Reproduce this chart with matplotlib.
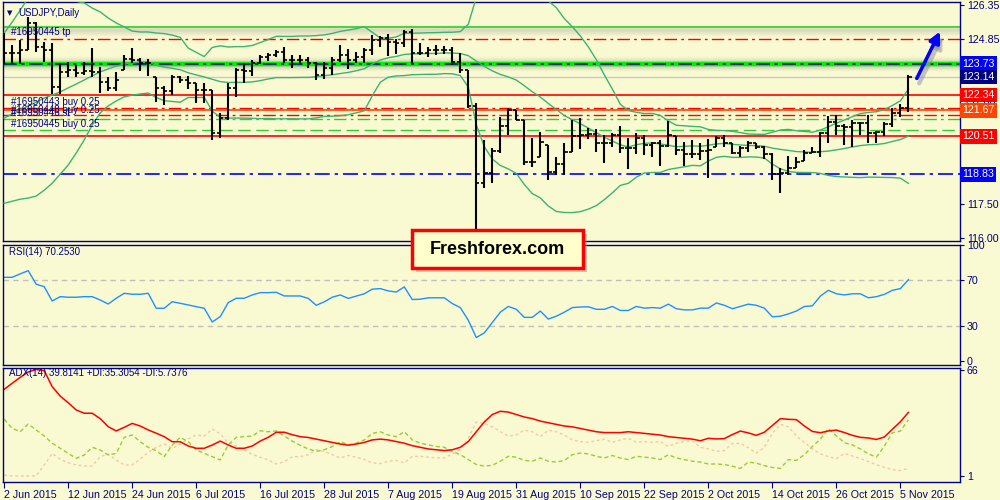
import numpy as np
import pandas as pd
import matplotlib
matplotlib.use('Agg')
import matplotlib.pyplot as plt
from matplotlib.patches import Rectangle

# ---- daily USDJPY bars (2 Jun 2015 .. 6 Nov 2015) ----
highs = [125.08, 124.56, 124.79, 125.82, 125.60, 124.71, 124.64, 123.75, 123.82, 123.68,
         123.82, 124.42, 123.60, 123.16, 123.38, 124.12, 124.42, 123.97, 123.93, 123.16,
         122.74, 123.23, 123.19, 123.19, 122.89, 122.86, 122.57, 121.53, 122.86, 123.53,
         123.75, 123.90, 124.12, 124.19, 124.34, 124.49, 124.12, 124.12, 124.05, 123.82,
         123.82, 124.02, 124.56, 124.37, 124.27, 124.42, 125.01, 124.96, 125.05, 124.81,
         125.23, 125.26, 124.64, 124.49, 124.56, 124.52, 124.46, 124.19, 123.45, 121.97,
         120.35, 119.98, 121.38, 121.75, 121.68, 121.24, 120.42, 120.72, 120.13, 119.61,
         120.20, 121.24, 121.31, 120.87, 120.82, 120.57, 120.67, 120.97, 120.42, 120.64,
         120.57, 120.27, 120.35, 121.21, 120.53, 120.27, 120.35, 120.23, 120.38, 120.53,
         120.57, 120.20, 120.08, 120.32, 120.23, 120.08, 119.76, 119.09, 119.64, 119.58,
         119.90, 120.05, 120.72, 121.41, 121.46, 121.06, 121.24, 121.16, 121.46, 120.76,
         121.16, 121.75, 121.94, 123.23]
lows = [123.72, 123.72, 123.72, 124.34, 124.27, 123.82, 122.39, 122.39, 123.16, 123.16,
        123.23, 123.16, 122.45, 122.54, 122.54, 123.45, 123.75, 123.42, 123.19, 122.05,
        121.90, 122.35, 122.89, 122.60, 121.97, 121.97, 120.35, 120.42, 121.24, 122.27,
        122.89, 123.19, 123.72, 123.87, 124.02, 123.75, 123.53, 123.72, 123.53, 123.01,
        123.04, 123.23, 123.82, 123.48, 123.75, 123.75, 124.12, 124.49, 124.08, 124.16,
        124.49, 123.72, 124.12, 124.05, 124.12, 124.16, 123.68, 123.34, 121.75, 116.15,
        118.20, 118.43, 119.76, 120.57, 121.24, 119.24, 119.17, 119.61, 118.57, 118.80,
        118.80, 119.83, 119.93, 120.38, 119.83, 119.34, 120.05, 119.76, 119.05, 119.73,
        119.68, 119.58, 119.19, 120.05, 119.68, 119.19, 119.53, 119.46, 118.65, 120.05,
        120.02, 119.73, 119.58, 119.83, 119.93, 119.49, 118.57, 118.01, 118.80, 119.09,
        119.43, 119.76, 119.58, 120.20, 120.57, 120.13, 120.02, 120.57, 120.20, 120.23,
        120.53, 120.94, 121.35, 121.61]
closes = [124.19, 124.19, 124.34, 125.55, 124.49, 124.34, 122.71, 123.38, 123.45, 123.30,
          123.42, 123.35, 122.93, 122.64, 123.01, 123.93, 123.90, 123.75, 123.75, 122.64,
          122.54, 123.16, 123.01, 122.89, 122.57, 122.57, 120.64, 121.31, 122.64, 123.45,
          123.42, 123.75, 124.05, 124.12, 124.27, 123.90, 123.90, 123.90, 123.75, 123.23,
          123.53, 123.90, 124.12, 123.90, 124.05, 124.34, 124.79, 124.86, 124.71, 124.64,
          125.15, 124.19, 124.22, 124.34, 124.34, 124.34, 123.82, 123.45, 121.86, 118.43,
          118.87, 119.88, 120.97, 121.68, 121.24, 119.36, 119.36, 120.27, 118.94, 119.27,
          119.80, 120.53, 120.57, 120.60, 120.23, 120.23, 120.57, 119.98, 119.98, 120.42,
          120.13, 120.20, 120.08, 120.57, 119.90, 119.73, 119.73, 119.88, 119.90, 120.45,
          120.20, 119.76, 119.98, 120.20, 120.05, 119.73, 118.84, 118.87, 119.09, 119.39,
          119.79, 119.83, 120.64, 121.16, 120.97, 120.94, 121.09, 121.09, 120.64, 120.72,
          121.06, 121.53, 121.75, 123.13]
first_open = 123.80

# Bollinger band values before 20 bars of history are on screen
bb_up_head = [125.09, 125.58, 126.11, 126.65, 126.90, 127.00, 127.00, 126.90, 126.70, 126.50,
              126.43, 126.20, 126.03, 125.76, 125.54, 125.36, 125.18, 125.14, 125.14]
bb_mid_head = [121.32, 121.50, 121.68, 121.86, 122.03, 122.21, 122.34, 122.48, 122.66, 122.83,
               123.01, 123.19, 123.37, 123.50, 123.63, 123.72, 123.76, 123.81, 123.81]
bb_lo_head = [117.54, 117.63, 117.72, 117.77, 117.86, 118.12, 118.43, 118.83, 119.24, 119.77,
              120.35, 121.01, 121.55, 121.86, 122.08, 122.26, 122.34, 122.39, 122.43]

rsi = [72.3, 72.3, 75.3, 78.1, 66.3, 64.2, 51.7, 55.5, 55, 55, 55.5, 55.5, 52.6, 49.1, 54.1,
       58.4, 57.6, 57.6, 58.4, 45.4, 45.4, 51.1, 49.7, 48.3, 46.8, 45.4, 33.5, 38.1, 50.3, 54.1,
       54.1, 57, 59, 59, 59.3, 56.1, 56.1, 56.1, 54, 48, 51, 55, 57, 54, 56, 58, 62, 62.5, 60.5,
       59.5, 64, 53, 53.3, 54.5, 54.5, 54.5, 49.5, 46, 35, 20, 24, 33, 42, 47, 44.5, 37.5, 37.5,
       43, 36, 38.5, 42, 46, 46.5, 46.7, 44.5, 44.5, 47, 43.5, 43.5, 47, 45.5, 46, 45.5, 49, 45,
       44, 44, 45.5, 45.5, 50, 48, 45, 47, 49, 48, 45.5, 38, 38.5, 40.5, 43, 47, 47.5, 56, 61,
       58, 57, 58, 58, 54.5, 55.5, 57.5, 61, 62.5, 70.253]
adx = [53.9, 57.6, 61.2, 64.5, 66, 65.3, 55.5, 49.8, 45.7, 41.3, 39.3, 39.3, 36, 31.1, 28.5,
       30.7, 33.1, 31.5, 29.1, 27.1, 25, 21.9, 21.9, 19.3, 17.9, 17.9, 19.9, 22.3, 19.9, 17.9,
       17.9, 19.3, 22.3, 24.6, 27.7, 27.7, 26.2, 25, 24.5, 23.5, 22.5, 21.5, 20.5, 19.8, 20.5,
       21.5, 23, 23.5, 23, 22, 21, 19.5, 18.5, 17.5, 17, 16.5, 17, 18.5, 22, 28, 34, 38.5, 40.5,
       40, 38.5, 37, 36, 34.5, 33.5, 32.5, 31.5, 31, 30, 29, 28, 27.5, 27.5, 27.5, 28, 27.5, 27,
       26.5, 26, 25, 24.5, 24, 23.5, 22.5, 24, 23.6, 23.8, 26.3, 28.4, 27.3, 25.8, 27.7, 31.8,
       36, 35.6, 35.4, 31.5, 28.2, 27.4, 28.5, 29, 27.5, 25.8, 24.6, 24.2, 23.3, 24.8, 29.5,
       34.1, 39.81]
plus_di = [35.6, 30.1, 28, 32.7, 29.1, 25.4, 21, 17.9, 14.8, 11.8, 13.8, 18.5, 16.9, 13.8, 14.8,
           24.6, 26, 21.9, 18.5, 16.4, 12.8, 19.9, 24.6, 21.9, 16.9, 14.8, 12.8, 10.8, 19.9, 24.6,
           25, 25.4, 28.6, 28, 28.5, 25.4, 22.3, 19.7, 17.5, 16, 17, 19, 22, 20, 21, 23, 27, 28,
           26, 25, 28, 23, 21, 20, 19, 18.5, 16, 14, 11, 8, 7, 7.5, 10, 13, 12.5, 10.5, 10, 12, 10,
           9.5, 10.5, 14, 15, 14.5, 13, 12, 13.5, 12, 11, 13, 12.5, 12, 11, 14, 12, 11, 10, 9.5,
           8.3, 8.3, 8, 7, 5.6, 9.5, 8.8, 7.3, 6.2, 5.6, 11, 10.5, 14, 19, 23.5, 29.9, 25.5, 21.3,
           20, 17.5, 14.5, 12.5, 19.3, 27.4, 28.4, 35.31]
minus_di = [1.6, 1, 1, 1, 1.2, 7.7, 14.8, 11.2, 9.1, 7.7, 7.1, 7.1, 12.8, 14.4, 10.8, 7.7, 7.7,
            11.4, 15.4, 18.5, 20.5, 17.9, 20.5, 23.6, 26, 25.4, 29.7, 26.6, 21.3, 19.3, 16.9,
            14.2, 12.4, 10.8, 8.3, 9.7, 12.8, 12.8, 14, 17, 16, 14, 12, 13.5, 12.5, 11, 9, 8.5,
            10, 10.5, 9, 13, 13, 12.5, 12, 12, 14.5, 17, 24, 34, 33, 31, 28, 25.5, 26, 29, 28, 25,
            29, 28, 26, 23, 22, 21.5, 22.5, 23.5, 21.5, 23, 24, 21.5, 22, 21.5, 22, 19, 21, 22,
            22.5, 18.5, 17.6, 16, 16.5, 20.9, 20.9, 18.3, 15, 18.5, 27, 32.5, 31.1, 25.5, 21.5,
            17.5, 14.5, 12.8, 11.5, 14.8, 13.2, 11.6, 9.8, 7.9, 6.3, 4.8, 4.3, 5.74]

date_labels = ['2 Jun 2015', '12 Jun 2015', '24 Jun 2015', '6 Jul 2015', '16 Jul 2015',
               '28 Jul 2015', '7 Aug 2015', '19 Aug 2015', '31 Aug 2015', '10 Sep 2015',
               '22 Sep 2015', '2 Oct 2015', '14 Oct 2015', '26 Oct 2015', '5 Nov 2015']

# horizontal levels on the price pane
lvl_green_top = 125.36
lvl_tp = 124.85
lvl_pivot = 123.73
lvl_bid = 123.14
lvl_res = 122.34
lvl_buy1 = 121.76
lvl_orange = 121.67
lvl_buy2 = 121.44
lvl_g1 = 121.27
lvl_g2 = 120.78
lvl_sup = 120.51
lvl_blue = 118.83

BG = '#FAFAD2'
NAVY = '#000080'
FONT = 'Liberation Sans'
plt.rcParams['font.family'] = [FONT, 'DejaVu Sans']

n = len(closes)
idx = np.arange(n)
c = pd.Series(closes)
opens = np.clip(np.r_[first_open, closes[:-1]], lows, highs)

mid = c.rolling(20).mean().to_numpy()
sd = c.rolling(20).std(ddof=0).to_numpy()
up = mid + 2 * sd
lo = mid - 2 * sd
mid[:19] = bb_mid_head
up[:19] = bb_up_head
lo[:19] = bb_lo_head

fig = plt.figure(figsize=(10, 5), dpi=100, facecolor=BG)
ax = fig.add_axes([0.003, 1 - 241 / 500, 0.957, 239 / 500])
ax2 = fig.add_axes([0.003, 1 - 365 / 500, 0.957, 120 / 500])
ax3 = fig.add_axes([0.003, 1 - 482 / 500, 0.957, 114 / 500])

for a in (ax, ax2, ax3):
    a.set_facecolor(BG)
    a.set_xlim(-0.15, 119.45)
    for s in a.spines.values():
        s.set_color(NAVY)
        s.set_linewidth(1.0)
    a.tick_params(left=False, labelleft=False, bottom=False, labelbottom=False,
                  right=True, labelright=True, colors=NAVY, labelsize=7.7,
                  length=3, pad=2, width=0.8)

# ---------------- price pane ----------------
ax.set_ylim(115.866, 126.47)
ax.set_yticks([126.35, 124.85, 117.50, 116.00])
ax.set_yticklabels(['126.35', '124.85', '117.50', '116.00'])

dd = (0, (9, 3, 2, 3))
# soft shadows behind the two top lines
for k in range(6):
    ax.axhline(lvl_pivot - 0.045 * k, color='#808080', lw=4, alpha=0.11 - 0.016 * k, zorder=1)
    ax.axhline(lvl_pivot + 0.045 * k, color='#808080', lw=4, alpha=0.09 - 0.014 * k, zorder=1)
    ax.axhline(lvl_green_top - 0.06 - 0.05 * k, color='#808080', lw=4, alpha=0.09 - 0.014 * k, zorder=1)

ax.axhline(lvl_green_top, color='#32CD32', lw=1.2, zorder=2)
ax.axhline(lvl_tp, color='#FF0000', lw=1.0, ls=dd, zorder=2)
ax.axhline(lvl_pivot, color='#00F000', lw=3.2, zorder=2)
ax.axhline(lvl_pivot, color=NAVY, lw=1.1, ls=dd, zorder=3)
ax.axhline(lvl_bid, color='#C8C8C8', lw=1.0, zorder=2)
ax.axhline(lvl_res, color='#FF0000', lw=1.2, zorder=2)
ax.axhline(lvl_buy1, color='#FF0000', lw=1.0, ls=dd, zorder=2)
ax.axhline(lvl_orange, color='#FF4500', lw=1.2, zorder=2)
ax.axhline(lvl_buy2, color='#FF0000', lw=1.0, ls=dd, zorder=2)
ax.axhline(lvl_g1, color='#32CD32', lw=1.0, ls=dd, zorder=2)
ax.axhline(lvl_g2, color='#32CD32', lw=1.0, ls=(0, (9, 4)), zorder=2)
ax.axhline(lvl_sup, color='#FF0000', lw=1.2, zorder=2)
ax.axhline(lvl_blue, color='#0000FF', lw=1.2, ls=dd, zorder=2)

# Bollinger bands
for band in (up, mid, lo):
    ax.plot(idx, band, color='#3CB371', lw=1.0, zorder=3)

# OHLC bars
ax.vlines(idx, lows, highs, color='black', lw=1.5, zorder=5)
ax.hlines(opens, idx - 0.4, idx, color='black', lw=1.2, zorder=5)
ax.hlines(closes, idx, idx + 0.4, color='black', lw=1.2, zorder=5)

# order labels (they overlap on the original chart too)
ytr = ax.get_yaxis_transform()
lab_kw = dict(transform=ytr, color=NAVY, fontsize=7, zorder=6)
ax.text(0.008, lvl_tp + 0.05, '#16950445 tp', va='bottom', **lab_kw)
ax.text(0.008, lvl_buy1 + 0.03, '#16950443 buy 0.25', va='bottom', **lab_kw)
ax.text(0.008, (lvl_orange + lvl_buy2) / 2, '#16950446 sl', va='center', **lab_kw)
ax.text(0.008, lvl_buy2 + 0.03, '#16950448 buy 0.25', va='bottom', **lab_kw)
ax.text(0.008, lvl_g2 + 0.05, '#16950445 buy 0.25', va='bottom', **lab_kw)

# right-hand price tags
ax.text(1.003, 121.90, '121.90', transform=ytr, color=NAVY, fontsize=7.7,
        va='center', ha='left', clip_on=False, zorder=7)
tags = [(lvl_pivot, '#0000FF'), (lvl_bid, NAVY), (lvl_res, '#FF0000'),
        (lvl_orange, '#FF4500'), (lvl_sup, '#FF0000'), (lvl_blue, '#0000FF')]
for val, col in tags:
    ax.text(1.002, val, f'{val:.2f}', transform=ytr, color='white', fontsize=7.7,
            va='center', ha='left', clip_on=False, zorder=8,
            bbox=dict(boxstyle='square,pad=0.22', fc=col, ec='none'))

# title
ax.text(0.004, 0.955, '\u25BC', transform=ax.transAxes, color=NAVY, fontsize=5,
        va='center', family='DejaVu Sans')
ax.text(0.016, 0.955, 'USDJPY,Daily', transform=ax.transAxes, color=NAVY, fontsize=7,
        va='center')

# arrow with shadow
ax.annotate('', xy=(117.4, 125.05), xytext=(114.2, 122.75),
            arrowprops=dict(arrowstyle='-|>', color='#909090', lw=3, mutation_scale=16,
                            alpha=0.5), zorder=6)
ax.annotate('', xy=(117.1, 125.27), xytext=(113.9, 122.97),
            arrowprops=dict(arrowstyle='-|>', color='#0000FF', lw=2.6, mutation_scale=16),
            zorder=7)

# ---------------- RSI pane ----------------
ax2.set_ylim(-3.9, 100.4)
ax2.set_yticks([100, 70, 30, 0])
ax2.axhline(70, color='#C0C0C0', lw=1, ls=(0, (4, 3)))
ax2.axhline(30, color='#C0C0C0', lw=1, ls=(0, (4, 3)))
ax2.plot(idx, rsi, color='#1E90FF', lw=1.0)
ax2.text(0.006, 0.94, 'RSI(14) 70.2530', transform=ax2.transAxes, color=NAVY,
         fontsize=7, va='center')

# ---------------- ADX pane ----------------
ax3.set_ylim(-2.68, 66.92)
ax3.set_yticks([66, 1])
ax3.plot(idx, minus_di, color='#F5C8A5', lw=1.0, ls=(0, (2, 2)))
ax3.plot(idx, plus_di, color='#9ACD32', lw=1.0, ls=(0, (3, 2)))
ax3.plot(idx, adx, color='#FF0000', lw=1.1)
ax3.text(0.006, 0.955, 'ADX(14) 39.8141 +DI:35.3054 -DI:5.7376', transform=ax3.transAxes,
         color=NAVY, fontsize=7, va='center')
ax3.set_xticks(np.arange(0, n, 8))
ax3.set_xticklabels(date_labels)
ax3.tick_params(axis='x', bottom=True, labelbottom=True, length=4, pad=1.5,
                colors=NAVY, labelsize=7.7)
for t in ax3.get_xticklabels():
    t.set_ha('left')

# ---------------- watermark box ----------------
fig.add_artist(Rectangle((416 / 1000, 1 - 272 / 500), 171 / 1000, 38 / 500,
                         transform=fig.transFigure, fc='#8A8A8A', ec='none',
                         alpha=0.45, zorder=9))
fig.add_artist(Rectangle((412 / 1000, 1 - 268 / 500), 171 / 1000, 38 / 500,
                         transform=fig.transFigure, fc='#FFFFCC', ec='#FF0000',
                         lw=2.5, zorder=10))
fig.text(497.5 / 1000, 1 - 249.5 / 500, 'Freshforex.com', ha='center', va='center',
         fontsize=13, fontweight='bold', family=FONT, color='black', zorder=11)

fig.savefig('out.png', dpi=100, facecolor=BG)
